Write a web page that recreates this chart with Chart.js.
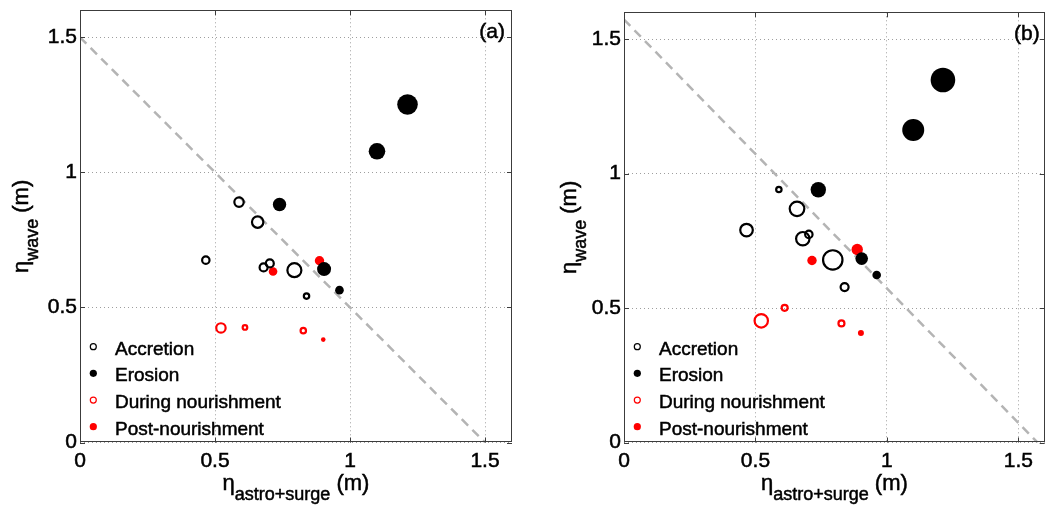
<!DOCTYPE html>
<html>
<head>
<meta charset="utf-8">
<script src="https://cdn.jsdelivr.net/npm/chart.js@4.4.1/dist/chart.umd.min.js"></script>
<style>
  html, body { margin: 0; padding: 0; background: #fff; }
  #wrap { position: relative; width: 1057px; height: 508px; overflow: hidden; }
  #wrap canvas { position: absolute; top: 0; }
</style>
</head>
<body>
<div id="wrap">
  <canvas id="chartA" width="528" height="508" style="left:0"></canvas>
  <canvas id="chartB" width="529" height="508" style="left:528px"></canvas>
</div>
<script>
//axis ticks, same on both panels
const xTicks = [0, 0.5, 1, 1.5];
const yTicks = [0, 0.5, 1, 1.5];
const axisMax = 1.6;

//x (astro+surge level) is the same set of events in both panels
const accretionX = [0.466, 0.589, 0.658, 0.680, 0.703, 0.794, 0.839];
const erosionX   = [0.739, 1.100, 1.213, 0.904, 0.961];
const duringX    = [0.522, 0.611, 0.827];
const postX      = [0.715, 0.887, 0.901];

//panel (a) wave level
const accretionYA = [0.675, 0.890, 0.816, 0.648, 0.663, 0.638, 0.542];
const erosionYA   = [0.881, 1.078, 1.251, 0.642, 0.564];
const duringYA    = [0.424, 0.426, 0.414];
const postYA      = [0.633, 0.673, 0.381];

//panel (b) wave level
const accretionYB = [0.790, 0.941, 0.869, 0.758, 0.774, 0.679, 0.578];
const erosionYB   = [0.940, 1.162, 1.348, 0.684, 0.623];
const duringYB    = [0.4525, 0.501, 0.443];
const postYB      = [0.677, 0.718, 0.407];

//symbol magnitude
const accretionMagA = [4.7, 5.7, 6.7, 5.0, 5.0, 8.0, 3.7];
const erosionMagA   = [6.7, 8.3, 10.3, 7.0, 4.3];
const duringMagA    = [5.7, 3.3, 3.7];
const postMagA      = [4.3, 4.7, 2.3];

const accretionMagB = [7.3, 3.7, 8.3, 7.7, 4.7, 10.7, 5.0];
const erosionMagB   = [7.7, 11.0, 12.3, 6.3, 4.3];
const duringMagB    = [7.7, 4.0, 4.0];
const postMagB      = [4.7, 5.7, 3.0];

//dashed threshold line x + y = c
const thresholdA = 1.5;
const thresholdB = 1.573;

const legendLabels = ["Accretion", "Erosion", "During nourishment", "Post-nourishment"];

const FONT = "'Liberation Sans', Arial, Helvetica, sans-serif";

function pts(xs, ys) { return xs.map((x, i) => ({ x: x, y: ys[i] })); }

//open markers have a 2px stroke so shrink the path radius a bit
function radii(mags, open) { return mags.map(m => open ? m - 1 : m); }

function markerSet(label, xs, ys, mags, colour, open) {
  return {
    type: "scatter",
    label: label,
    data: pts(xs, ys),
    pointStyle: "circle",
    pointRadius: radii(mags, open),
    pointHoverRadius: radii(mags, open),
    backgroundColor: open ? "rgba(0,0,0,0)" : colour,
    borderColor: colour,
    borderWidth: open ? 2.2 : 0,
    order: 1,
    _open: open,
  };
}

function thresholdSet(c) {
  return {
    type: "line",
    label: "threshold",
    data: [{ x: 0, y: c }, { x: c, y: 0 }],
    borderColor: "#b4b4b4",
    borderWidth: 2.5,
    borderDash: [9, 6],
    pointRadius: 0,
    fill: false,
    order: 5,
  };
}

//text made of runs (main / subscript), lightly stroked to match the heavier original
function runWidth(ctx, runs) {
  let w = 0;
  runs.forEach(r => { ctx.font = r.size + "px " + FONT; w += ctx.measureText(r.text).width; });
  return w;
}
function heavyText(ctx, t, x, y) {
  ctx.fillText(t, x, y);
  ctx.strokeText(t, x, y);
}
function drawRuns(ctx, runs, x, y) {
  runs.forEach(r => {
    ctx.font = r.size + "px " + FONT;
    heavyText(ctx, r.text, x, y + (r.dy || 0));
    x += ctx.measureText(r.text).width;
  });
}

const xTitle = [{ text: "\u03B7", size: 22 }, { text: "astro+surge", size: 18, dy: 10 }, { text: " (m)", size: 22 }];
const yTitle = [{ text: "\u03B7", size: 22 }, { text: "wave", size: 18, dy: 10 }, { text: " (m)", size: 22 }];

//box, inward ticks, titles, panel tag and legend
const decoPlugin = {
  id: "deco",
  afterDraw(chart, args, opts) {
    const ctx = chart.ctx;
    const a = chart.chartArea;
    const xs = chart.scales.x, ys = chart.scales.y;
    ctx.save();

    ctx.strokeStyle = "#3c3c3c";
    ctx.lineWidth = 1;
    ctx.strokeRect(Math.round(a.left) + 0.5, Math.round(a.top) + 0.5,
      Math.round(a.right - a.left) - 1, Math.round(a.bottom - a.top) - 1);
    ctx.beginPath();
    xTicks.forEach(v => {
      const px = Math.round(xs.getPixelForValue(v)) + 0.5;
      ctx.moveTo(px, a.bottom); ctx.lineTo(px, a.bottom - 5);
      ctx.moveTo(px, a.top); ctx.lineTo(px, a.top + 5);
    });
    yTicks.forEach(v => {
      const py = Math.round(ys.getPixelForValue(v)) + 0.5;
      ctx.moveTo(a.left, py); ctx.lineTo(a.left + 5, py);
      ctx.moveTo(a.right, py); ctx.lineTo(a.right - 5, py);
    });
    ctx.stroke();

    ctx.fillStyle = "#000";
    ctx.strokeStyle = "#000";
    ctx.lineWidth = 0.5;
    ctx.textBaseline = "alphabetic";
    ctx.textAlign = "left";

    //x title
    const cx = (a.left + a.right) / 2;
    drawRuns(ctx, xTitle, cx - runWidth(ctx, xTitle) / 2, 490);

    //y title, rotated
    const cy = (a.top + a.bottom) / 2;
    ctx.save();
    ctx.translate(opts.yTitleX, cy);
    ctx.rotate(-Math.PI / 2);
    drawRuns(ctx, yTitle, -runWidth(ctx, yTitle) / 2, 0);
    ctx.restore();

    //panel tag
    ctx.font = "21px " + FONT;
    ctx.textAlign = "right";
    heavyText(ctx, opts.tag, a.right - opts.tagInset, ys.getPixelForValue(1.5) + 1);

    //legend, inside bottom left
    ctx.textAlign = "left";
    ctx.font = "19px " + FONT;
    const sets = chart.data.datasets.filter(d => d.type === "scatter");
    sets.forEach((d, i) => {
      const my = a.bottom - 15.8 - (sets.length - 1 - i) * 26.67;
      const mx = a.left + 13.3;
      ctx.beginPath();
      if (d._open) {
        ctx.arc(mx, my, 3, 0, Math.PI * 2);
        ctx.strokeStyle = d.borderColor;
        ctx.lineWidth = 1.2;
        ctx.stroke();
      } else {
        ctx.arc(mx, my, 3.6, 0, Math.PI * 2);
        ctx.fillStyle = d.backgroundColor;
        ctx.fill();
      }
      ctx.fillStyle = "#000";
      ctx.strokeStyle = "#000";
      ctx.lineWidth = 0.5;
      heavyText(ctx, d.label, a.left + 35, my + 8);
    });

    ctx.restore();
  }
};

function makeChart(id, sets, threshold, layout) {
  const tickFont = { family: FONT, size: 21 };
  return new Chart(document.getElementById(id), {
    data: {
      datasets: [
        markerSet(legendLabels[0], accretionX, sets.acc, sets.accMag, "#000000", true),
        markerSet(legendLabels[1], erosionX, sets.ero, sets.eroMag, "#000000", false),
        markerSet(legendLabels[2], duringX, sets.dur, sets.durMag, "#ff0000", true),
        markerSet(legendLabels[3], postX, sets.post, sets.postMag, "#ff0000", false),
        thresholdSet(threshold),
      ]
    },
    options: {
      responsive: false,
      animation: false,
      devicePixelRatio: 1,
      events: [],
      layout: { padding: { left: 0, top: 9.5, right: layout.padRight, bottom: 0 } },
      plugins: {
        legend: { display: false },
        tooltip: { enabled: false },
        deco: { tag: layout.tag, tagInset: layout.tagInset, yTitleX: layout.yTitleX },
      },
      scales: {
        x: {
          type: "linear", min: 0, max: axisMax,
          afterBuildTicks: s => { s.ticks = xTicks.map(v => ({ value: v })); },
          afterFit: s => { s.height = 65.5; s.paddingLeft = 0; s.paddingRight = 0; },
          ticks: { padding: 6, color: "#000", font: tickFont, textStrokeColor: "#000", textStrokeWidth: 0.5, callback: v => String(v) },
          grid: { color: "rgba(0,0,0,0.38)", lineWidth: 1, drawTicks: false },
          border: { display: false, dash: [1, 3] },
        },
        y: {
          type: "linear", min: 0, max: axisMax,
          afterBuildTicks: s => { s.ticks = yTicks.map(v => ({ value: v })); },
          afterFit: s => { s.width = layout.yWidth; s.paddingTop = 0; s.paddingBottom = 0; },
          ticks: { padding: 3, color: "#000", font: tickFont, textStrokeColor: "#000", textStrokeWidth: 0.5, callback: v => String(v) },
          grid: { color: "rgba(0,0,0,0.38)", lineWidth: 1, drawTicks: false },
          border: { display: false, dash: [1, 3] },
        }
      }
    },
    plugins: [decoPlugin]
  });
}

makeChart("chartA", {
  acc: accretionYA, ero: erosionYA, dur: duringYA, post: postYA,
  accMag: accretionMagA, eroMag: erosionMagA, durMag: duringMagA, postMag: postMagA,
}, thresholdA, { padRight: 16, yWidth: 80, tag: "(a)", tagInset: 7, yTitleX: 28 });

makeChart("chartB", {
  acc: accretionYB, ero: erosionYB, dur: duringYB, post: postYB,
  accMag: accretionMagB, eroMag: erosionMagB, durMag: duringMagB, postMag: postMagB,
}, thresholdB, { padRight: 1, yWidth: 96, tag: "(b)", tagInset: 5, yTitleX: 48 });
</script>
</body>
</html>
